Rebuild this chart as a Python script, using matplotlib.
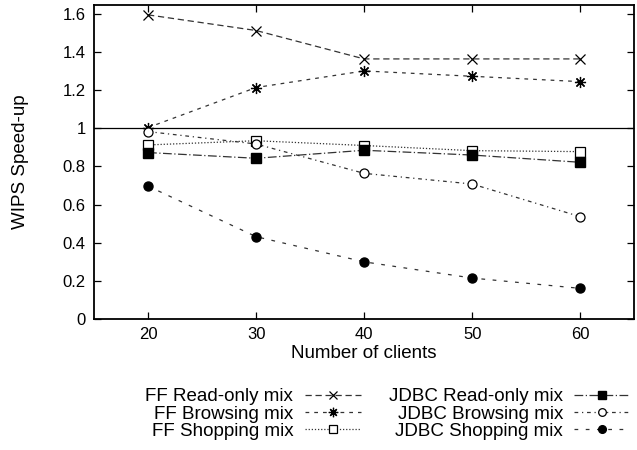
import matplotlib
matplotlib.use('Agg')
import matplotlib.pyplot as plt

plt.rcParams['font.family'] = ['Liberation Sans', 'DejaVu Sans']

clients = [20, 30, 40, 50, 60]
ff_read = [1.595, 1.513, 1.364, 1.364, 1.364]
ff_browse = [1.004, 1.214, 1.301, 1.273, 1.245]
ff_shop = [0.913, 0.935, 0.910, 0.883, 0.878]
jdbc_read = [0.873, 0.843, 0.885, 0.860, 0.822]
jdbc_browse = [0.983, 0.918, 0.764, 0.708, 0.537]
jdbc_shop = [0.697, 0.432, 0.300, 0.215, 0.161]

x_ticks = [20, 30, 40, 50, 60]
y_ticks = [0, 0.2, 0.4, 0.6, 0.8, 1, 1.2, 1.4, 1.6]
y_tick_labels = ['0', '0.2', '0.4', '0.6', '0.8', '1', '1.2', '1.4', '1.6']


def main():
    fig = plt.figure(figsize=(6.37, 4.5), dpi=100)
    ax = fig.add_axes([0.1476, 0.291, 0.848, 0.698])

    lc = '#333333'
    lw = 0.9
    ax.axhline(1, color='black', lw=0.9)

    ax.plot(clients, ff_read, color=lc, lw=lw, ls=(0, (5, 3)),
            marker='x', ms=6.5, mec='black', mew=0.9, label='FF Read-only mix')
    ax.plot(clients, ff_browse, color=lc, lw=lw, ls=(0, (3, 4)),
            marker=(8, 2, 0), ms=8, mec='black', mew=0.9, label='FF Browsing mix')
    ax.plot(clients, ff_shop, color=lc, lw=lw, ls=(0, (1, 1.5)),
            marker='s', ms=6.5, mfc='white', mec='black', mew=0.9,
            label='FF Shopping mix')
    ax.plot(clients, jdbc_read, color=lc, lw=lw, ls=(0, (7, 2, 1, 2)),
            marker='s', ms=6.5, mfc='black', mec='black', label='JDBC Read-only mix')
    ax.plot(clients, jdbc_browse, color=lc, lw=lw, ls=(0, (3, 3, 1, 3)),
            marker='o', ms=6.5, mfc='white', mec='black', mew=0.9,
            label='JDBC Browsing mix')
    ax.plot(clients, jdbc_shop, color=lc, lw=lw, ls=(0, (3, 6)),
            marker='o', ms=6.5, mfc='black', mec='black', label='JDBC Shopping mix')

    ax.set_xlim(15, 65)
    ax.set_ylim(0, 1.647)
    ax.set_xticks(x_ticks)
    ax.set_yticks(y_ticks)
    ax.set_yticklabels(y_tick_labels)
    ax.tick_params(direction='in', top=True, right=True, length=5, width=0.9,
                   labelsize=12, pad=6)
    for s in ax.spines.values():
        s.set_linewidth(1.3)

    ax.set_xlabel('Number of clients', fontsize=13.5, labelpad=2)
    ax.set_ylabel('WIPS Speed-up', fontsize=13.5, labelpad=24)

    fig.legend(loc='center', bbox_to_anchor=(0.609, 0.08), ncol=2,
               markerfirst=False, frameon=False, fontsize=13.5,
               handlelength=3.0, handletextpad=0.6, columnspacing=1.5,
               labelspacing=0.0, numpoints=1, markerscale=0.85)

    fig.savefig('out.png', dpi=100)


if __name__ == "__main__":
    main()
